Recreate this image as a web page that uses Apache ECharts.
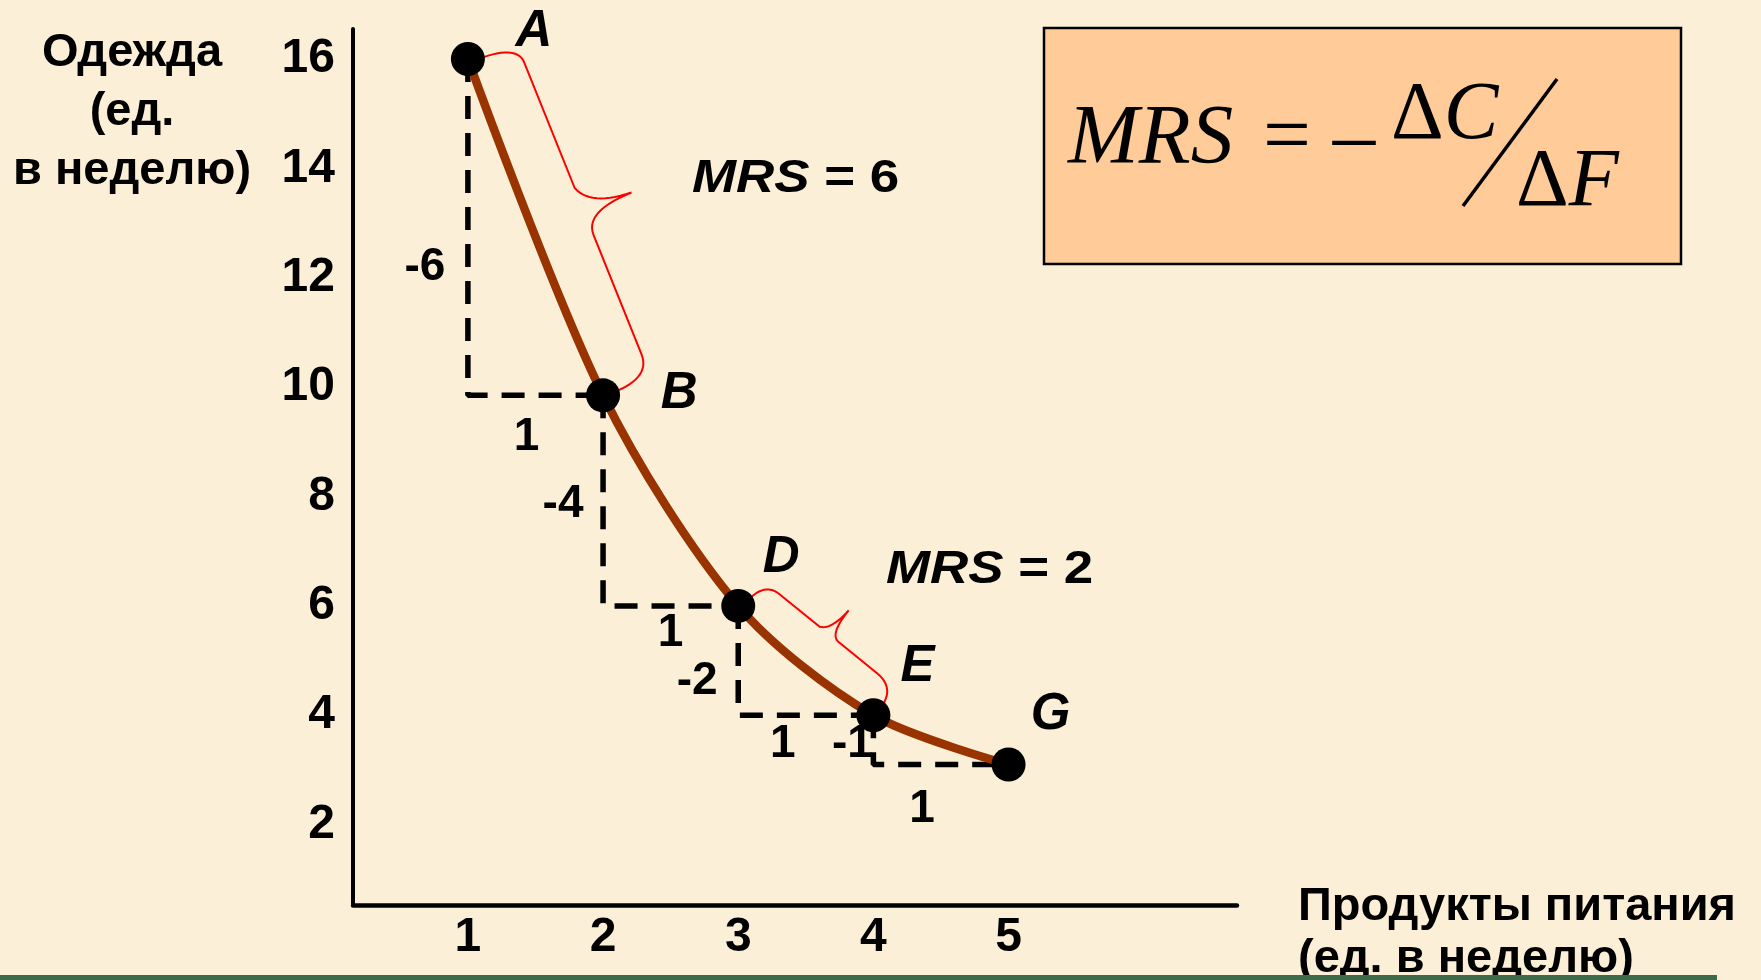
<!DOCTYPE html>
<html>
<head>
<meta charset="utf-8">
<title>MRS</title>
<script src="https://cdn.jsdelivr.net/npm/echarts@6/dist/echarts.min.js"></script>
<style>
  html, body { margin: 0; padding: 0; background: #fbf0d7; }
  #chart { width: 1761px; height: 980px; }
</style>
</head>
<body>
<div id="chart"></div>
<script>
// точки кривой безразличия
const pointNames = ['A', 'B', 'D', 'E', 'G'];
const foodValues = [1, 2, 3, 4, 5];
const clothingValues = [16, 9.85, 6, 4, 3.1];

// подписи ступенек (изменение одежды и продуктов)
const clothingDeltaLabels = ['-6', '-4', '-2', '-1'];
const foodDeltaLabels = ['1', '1', '1', '1'];

// MRS на участках A-B и D-E
const mrsValues = [6, 2];

const xTicks = [1, 2, 3, 4, 5];
const yTicks = [2, 4, 6, 8, 10, 12, 14, 16];

const SANS = "'Liberation Sans', Arial, sans-serif";
const SERIF = "'Liberation Serif', 'Times New Roman', serif";

// смещения подписей в пикселях (только оформление)
const pointLabelOffsets = [[66, -27], [76, -1], [43, -48], [44, -48], [42, -50]];
const clothingDeltaOffsets = [[-43, 40], [-40, 4], [-41, 21], [-21, 4]];
const foodDeltaOffsets = [[-9, 42], [0, 27], [-23, 29], [-19, 45]];

let chartDom = document.getElementById('chart');
let myChart = echarts.init(chartDom);

let stepSeries = [];
for (let i = 0; i < foodValues.length - 1; i++) {
  stepSeries.push({
    type: 'line',
    data: [
      [foodValues[i], clothingValues[i]],
      [foodValues[i], clothingValues[i + 1]],
      [foodValues[i + 1], clothingValues[i + 1]]
    ],
    symbol: 'none',
    silent: true,
    z: 2,
    lineStyle: { color: '#000', width: 5.5, type: [23, 14], opacity: 1 }
  });
}

let deltaData = [];
for (let i = 0; i < clothingDeltaLabels.length; i++) {
  deltaData.push({
    value: [foodValues[i], (clothingValues[i] + clothingValues[i + 1]) / 2],
    label: { formatter: clothingDeltaLabels[i], offset: clothingDeltaOffsets[i] }
  });
  deltaData.push({
    value: [(foodValues[i] + foodValues[i + 1]) / 2, clothingValues[i + 1]],
    label: { formatter: foodDeltaLabels[i], offset: foodDeltaOffsets[i] }
  });
}

function mrsText(id, x, y, value) {
  return {
    id: id,
    type: 'text',
    x: x,
    y: y,
    scaleX: 1.15,
    style: {
      text: '{i|MRS}{n| = ' + value + '}',
      verticalAlign: 'middle',
      rich: {
        i: { fontStyle: 'italic', fontWeight: 'bold', fontSize: 46, fontFamily: SANS, fill: '#000' },
        n: { fontWeight: 'bold', fontSize: 46, fontFamily: SANS, fill: '#000' }
      }
    }
  };
}

let option = {
  backgroundColor: '#fbf0d7',
  animation: false,
  grid: { left: 353, top: 29, width: 884, height: 876, outerBoundsMode: 'none' },
  xAxis: {
    type: 'value',
    min: 0.15,
    max: 6.69,
    axisLine: { lineStyle: { color: '#000', width: 4.5 } },
    axisTick: { show: false },
    splitLine: { show: false },
    axisLabel: {
      customValues: xTicks,
      margin: 9,
      color: '#000',
      fontSize: 48,
      fontWeight: 'bold',
      fontFamily: SANS
    }
  },
  yAxis: {
    type: 'value',
    min: 0.53,
    max: 16.55,
    axisLine: { lineStyle: { color: '#000', width: 4 } },
    axisTick: { show: false },
    splitLine: { show: false },
    axisLabel: {
      customValues: yTicks,
      margin: 18,
      color: '#000',
      fontSize: 48,
      fontWeight: 'bold',
      fontFamily: SANS
    }
  },
  series: stepSeries.concat([
    {
      type: 'line',
      data: foodValues.map((f, i) => [f, clothingValues[i]]),
      smooth: 0.3,
      symbol: 'none',
      silent: true,
      z: 3,
      lineStyle: { color: '#993300', width: 8.5 }
    },
    {
      type: 'scatter',
      data: foodValues.map((f, i) => ({
        value: [f, clothingValues[i]],
        label: { formatter: pointNames[i], offset: pointLabelOffsets[i] }
      })),
      symbolSize: 34,
      z: 5,
      silent: true,
      itemStyle: { color: '#000', opacity: 1 },
      label: {
        show: true,
        position: 'inside',
        color: '#000',
        opacity: 1,
        fontSize: 51,
        fontWeight: 'bold',
        fontStyle: 'italic',
        fontFamily: SANS
      }
    },
    {
      type: 'scatter',
      data: deltaData,
      symbolSize: 0,
      z: 6,
      silent: true,
      itemStyle: { opacity: 1 },
      label: {
        show: true,
        position: 'inside',
        color: '#000',
        opacity: 1,
        fontSize: 46,
        fontWeight: 'bold',
        fontFamily: SANS
      }
    }
  ]),
  graphic: [
    {
      id: 'yTitle',
      type: 'text',
      x: 132,
      y: 24,
      style: {
        text: 'Одежда\n(ед.\nв неделю)',
        align: 'center',
        verticalAlign: 'top',
        lineHeight: 59,
        fill: '#000',
        font: 'bold 47px ' + SANS
      }
    },
    {
      id: 'xTitle',
      type: 'text',
      x: 1298,
      y: 881,
      style: {
        text: 'Продукты питания\n(ед. в неделю)',
        align: 'left',
        verticalAlign: 'top',
        lineHeight: 52,
        fill: '#000',
        font: 'bold 47px ' + SANS
      }
    },
    {
      id: 'greenBar',
      type: 'rect',
      z: 100,
      shape: { x: 0, y: 975, width: 1717, height: 5 },
      style: { fill: '#3d6b4a' }
    },
    mrsText('mrs1', 692, 179, mrsValues[0]),
    mrsText('mrs2', 886, 570, mrsValues[1]),
    // формула в рамке
    {
      id: 'formulaBox',
      type: 'rect',
      shape: { x: 1044, y: 28, width: 637, height: 236 },
      style: { fill: '#ffcc99', stroke: '#000', lineWidth: 2.5 }
    },
    {
      id: 'fMRS',
      type: 'text',
      z: 10,
      x: 1068,
      y: 141,
      style: { text: 'MRS', verticalAlign: 'middle', fill: '#000', font: 'italic 85px ' + SERIF }
    },
    {
      id: 'fEq',
      type: 'text',
      z: 10,
      x: 1287,
      y: 141,
      style: { text: '=', align: 'center', verticalAlign: 'middle', fill: '#000', font: '85px ' + SERIF }
    },
    {
      id: 'fMinus',
      type: 'text',
      z: 10,
      x: 1354,
      y: 141,
      style: { text: '–', align: 'center', verticalAlign: 'middle', fill: '#000', font: '85px ' + SERIF }
    },
    {
      id: 'fDC',
      type: 'text',
      z: 10,
      x: 1391,
      y: 116,
      style: {
        text: '{u|Δ}{i|C}',
        verticalAlign: 'middle',
        rich: {
          u: { fontSize: 82, fontFamily: SERIF, fill: '#000' },
          i: { fontSize: 82, fontStyle: 'italic', fontFamily: SERIF, fill: '#000' }
        }
      }
    },
    {
      id: 'fDF',
      type: 'text',
      z: 10,
      x: 1516,
      y: 183,
      style: {
        text: '{u|Δ}{i|F}',
        verticalAlign: 'middle',
        rich: {
          u: { fontSize: 82, fontFamily: SERIF, fill: '#000' },
          i: { fontSize: 82, fontStyle: 'italic', fontFamily: SERIF, fill: '#000' }
        }
      }
    },
    {
      id: 'fSlash',
      type: 'line',
      z: 10,
      shape: { x1: 1557, y1: 79, x2: 1463, y2: 206 },
      style: { stroke: '#000', lineWidth: 3.5 }
    }
  ]
};

myChart.setOption(option);

// фигурные скобки вдоль кривой
function bracePoints(p1, p2, d, t) {
  const dx = p2[0] - p1[0], dy = p2[1] - p1[1];
  const L = Math.hypot(dx, dy);
  const u = [dx / L, dy / L];
  const n = [u[1], -u[0]];
  const pt = (a, p) => [p1[0] + u[0] * a + n[0] * p, p1[1] + u[1] * a + n[1] * p];
  const e = 24, m = 0.51 * L, h = 0.07 * L;
  let pts = [];
  const quad = (a, c, b) => {
    for (let k = 1; k <= 14; k++) {
      const s = k / 14;
      pts.push([
        (1 - s) * (1 - s) * a[0] + 2 * (1 - s) * s * c[0] + s * s * b[0],
        (1 - s) * (1 - s) * a[1] + 2 * (1 - s) * s * c[1] + s * s * b[1]
      ]);
    }
  };
  pts.push(pt(4, 0.3 * d));
  quad(pt(4, 0.3 * d), pt(6, d), pt(e, d));
  pts.push(pt(m - h, d));
  quad(pt(m - h, d), pt(m - 0.1 * h, d + 0.16 * t), pt(m, d + t));
  quad(pt(m, d + t), pt(m, d), pt(m + h, d));
  pts.push(pt(L - e, d));
  quad(pt(L - e, d), pt(L, d), pt(L + 1, 0.3 * d));
  return pts;
}

let px = foodValues.map((f, i) => myChart.convertToPixel('grid', [f, clothingValues[i]]));
myChart.setOption({
  graphic: [
    {
      id: 'braceAB',
      type: 'polyline',
      z: 4,
      shape: { points: bracePoints(px[0], px[1], 51, 51) },
      style: { fill: null, stroke: '#ff0000', lineWidth: 2 }
    },
    {
      id: 'braceDE',
      type: 'polyline',
      z: 4,
      shape: { points: bracePoints(px[2], px[3], 35, 31) },
      style: { fill: null, stroke: '#ff0000', lineWidth: 2 }
    }
  ]
});
</script>
</body>
</html>
